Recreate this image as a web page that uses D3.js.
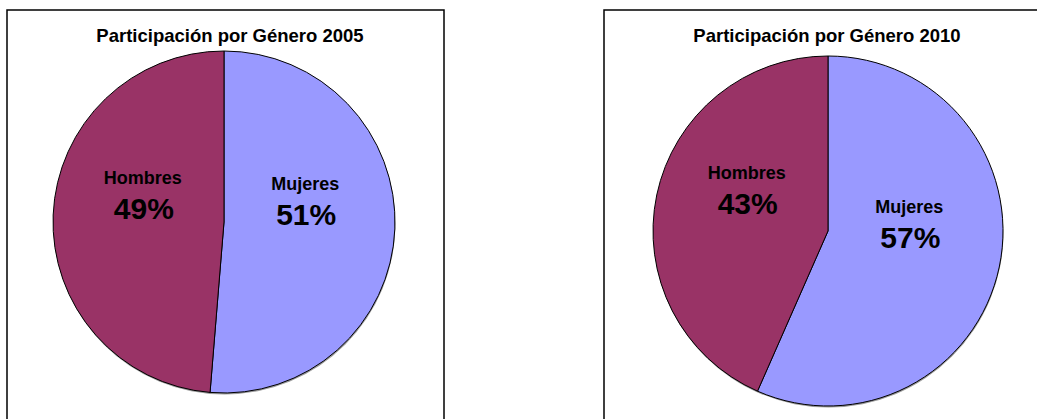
<!DOCTYPE html>
<html>
<head>
<meta charset="utf-8">
<script src="https://cdn.jsdelivr.net/npm/d3@7"></script>
<style>
  body { margin: 0; background: #fff; }
  text { font-family: "Liberation Sans", Arial, sans-serif; font-weight: bold; fill: #000; }
</style>
</head>
<body>
<div id="chart"></div>
<script>
var width = 1037,
    height = 419;

// data
var years = ["2005", "2010"];
var categories = ["Mujeres", "Hombres"];
var values2005 = [51.3, 48.7];
var values2010 = [56.6, 43.4];
var colors = ["#9999FF", "#993366"];

var panels = [
    {year: years[0], values: values2005, x: 7, cx: 224, cy: 222, r: 171},
    {year: years[1], values: values2010, x: 604, cx: 828, cy: 231, r: 175}
];

var svg = d3.select("#chart")
    .append("svg")
    .attr("width", width)
    .attr("height", height);

var pie = d3.pie().sort(null).value(function(d) { return d; });

panels.forEach(function(p) {
    var g = svg.append("g");

    // frame (bottom and right are off the picture)
    g.append("rect")
        .attr("x", p.x)
        .attr("y", 10)
        .attr("width", 437)
        .attr("height", 430)
        .style("fill", "none")
        .style("stroke", "#000")
        .style("stroke-width", 1.5);

    g.append("text")
        .attr("x", p.x + 223)
        .attr("y", 42)
        .attr("text-anchor", "middle")
        .style("font-size", "18.5px")
        .text("Participación por Género " + p.year);

    var arc = d3.arc().innerRadius(0).outerRadius(p.r);
    var labelArc = d3.arc().innerRadius(p.r * 0.95).outerRadius(0);

    var pg = g.append("g")
        .attr("transform", "translate(" + p.cx + "," + p.cy + ")");

    // soft shadow under the pie
    pg.append("circle")
        .attr("r", p.r)
        .attr("cy", 1.5)
        .attr("cx", 0.5)
        .style("fill", "#999");

    var arcs = pie(p.values);

    pg.selectAll("path")
        .data(arcs)
        .enter()
        .append("path")
        .attr("d", arc)
        .style("fill", function(d, i) { return colors[i]; })
        .style("stroke", "#000")
        .style("stroke-width", 1);

    arcs.forEach(function(d, i) {
        var c = labelArc.centroid(d);
        pg.append("text")
            .attr("x", c[0])
            .attr("y", c[1] - 35)
            .attr("text-anchor", "middle")
            .style("font-size", "18px")
            .text(categories[i]);
        pg.append("text")
            .attr("x", c[0] + 1)
            .attr("y", c[1])
            .attr("text-anchor", "middle")
            .style("font-size", "30px")
            .text(Math.round(p.values[i]) + "%");
    });
});
</script>
</body>
</html>
